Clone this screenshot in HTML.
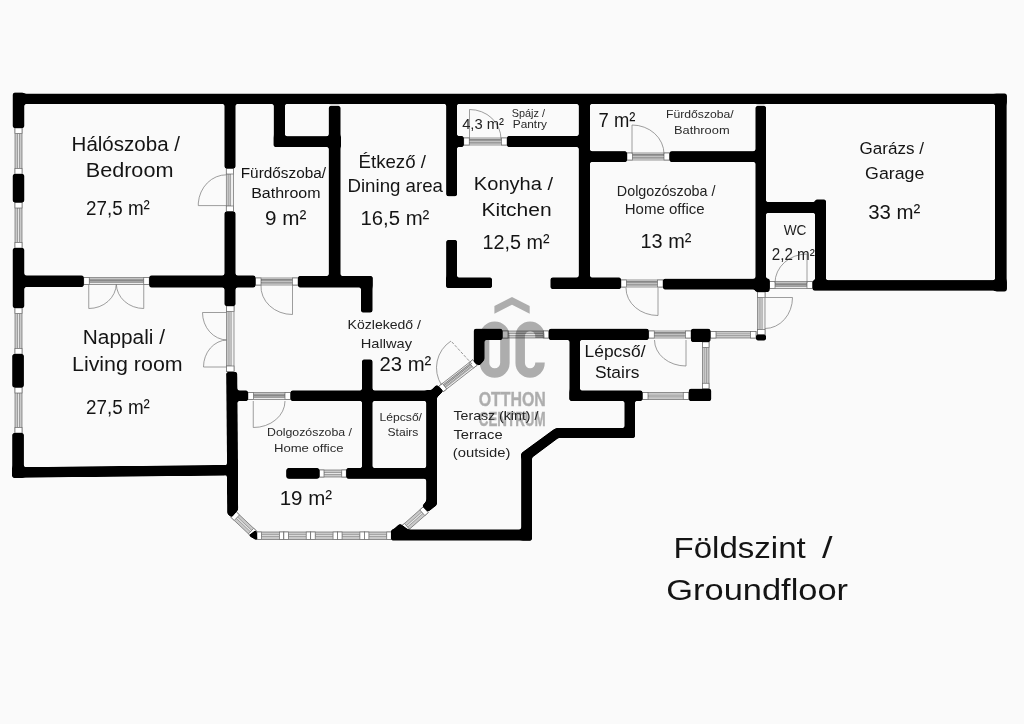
<!DOCTYPE html>
<html><head><meta charset="utf-8"><title>Floor plan</title>
<style>
html,body{margin:0;padding:0;background:#fafafa;}
body{width:1024px;height:724px;overflow:hidden;}
svg{display:block;font-family:"Liberation Sans",sans-serif;}
</style></head><body>
<svg width="1024" height="724" viewBox="0 0 1024 724">
<defs><filter id="soft" filterUnits="userSpaceOnUse" x="0" y="0" width="1024" height="724" color-interpolation-filters="sRGB">
<feGaussianBlur stdDeviation="1.1"/>
<feComponentTransfer><feFuncA type="linear" slope="4" intercept="-1.5"/></feComponentTransfer>
</filter></defs>
<rect width="1024" height="724" fill="#fafafa"/>
<g stroke="#6a6a6a" stroke-width="0.7">
<rect x="15" y="128" width="7" height="46" fill="#c9c9c9"/>
<rect x="17.66" y="133.5" width="1.68" height="35" fill="#e6e6e6" stroke-width="0.5"/>
<rect x="15" y="128" width="7" height="5.5" fill="#fff"/>
<rect x="15" y="168.5" width="7" height="5.5" fill="#fff"/>
</g>
<g stroke="#6a6a6a" stroke-width="0.7">
<rect x="15" y="202.5" width="7" height="45.5" fill="#c9c9c9"/>
<rect x="17.66" y="208" width="1.68" height="34.5" fill="#e6e6e6" stroke-width="0.5"/>
<rect x="15" y="202.5" width="7" height="5.5" fill="#fff"/>
<rect x="15" y="242.5" width="7" height="5.5" fill="#fff"/>
</g>
<g stroke="#6a6a6a" stroke-width="0.7">
<rect x="15" y="308" width="7" height="46" fill="#c9c9c9"/>
<rect x="17.66" y="313.5" width="1.68" height="35" fill="#e6e6e6" stroke-width="0.5"/>
<rect x="15" y="308" width="7" height="5.5" fill="#fff"/>
<rect x="15" y="348.5" width="7" height="5.5" fill="#fff"/>
</g>
<g stroke="#6a6a6a" stroke-width="0.7">
<rect x="15" y="387.5" width="7" height="45.5" fill="#c9c9c9"/>
<rect x="17.66" y="393" width="1.68" height="34.5" fill="#e6e6e6" stroke-width="0.5"/>
<rect x="15" y="387.5" width="7" height="5.5" fill="#fff"/>
<rect x="15" y="427.5" width="7" height="5.5" fill="#fff"/>
</g>
<g stroke="#6a6a6a" stroke-width="0.7">
<rect x="502.5" y="331" width="46.25" height="7" fill="#c9c9c9"/>
<rect x="508" y="333.66" width="35.25" height="1.68" fill="#e6e6e6" stroke-width="0.5"/>
<rect x="502.5" y="331" width="5.5" height="7" fill="#fff"/>
<rect x="543.25" y="331" width="5.5" height="7" fill="#fff"/>
</g>
<g stroke="#6a6a6a" stroke-width="0.7">
<rect x="710.5" y="331.5" width="45.5" height="6.5" fill="#c9c9c9"/>
<rect x="716" y="333.97" width="34.5" height="1.56" fill="#e6e6e6" stroke-width="0.5"/>
<rect x="710.5" y="331.5" width="5.5" height="6.5" fill="#fff"/>
<rect x="750.5" y="331.5" width="5.5" height="6.5" fill="#fff"/>
</g>
<g stroke="#6a6a6a" stroke-width="0.7">
<rect x="642.5" y="392.5" width="46.25" height="7" fill="#c9c9c9"/>
<rect x="648" y="395.16" width="35.25" height="1.68" fill="#e6e6e6" stroke-width="0.5"/>
<rect x="642.5" y="392.5" width="5.5" height="7" fill="#fff"/>
<rect x="683.25" y="392.5" width="5.5" height="7" fill="#fff"/>
</g>
<g stroke="#6a6a6a" stroke-width="0.7">
<rect x="702.5" y="342" width="6.5" height="46.75" fill="#c9c9c9"/>
<rect x="704.97" y="347.5" width="1.56" height="35.75" fill="#e6e6e6" stroke-width="0.5"/>
<rect x="702.5" y="342" width="6.5" height="5.5" fill="#fff"/>
<rect x="702.5" y="383.25" width="6.5" height="5.5" fill="#fff"/>
</g>
<g stroke="#6a6a6a" stroke-width="0.7">
<rect x="319.5" y="470" width="26.75" height="7" fill="#c9c9c9"/>
<rect x="324" y="472.66" width="17.75" height="1.68" fill="#e6e6e6" stroke-width="0.5"/>
<rect x="319.5" y="470" width="4.5" height="7" fill="#fff"/>
<rect x="341.75" y="470" width="4.5" height="7" fill="#fff"/>
</g>
<g stroke="#6a6a6a" stroke-width="0.7">
<rect x="257" y="532" width="26.85" height="7.5" fill="#c9c9c9"/>
<rect x="261.5" y="534.85" width="17.85" height="1.8" fill="#e6e6e6" stroke-width="0.5"/>
<rect x="257" y="532" width="4.5" height="7.5" fill="#fff"/>
<rect x="279.35" y="532" width="4.5" height="7.5" fill="#fff"/>
</g>
<g stroke="#6a6a6a" stroke-width="0.7">
<rect x="283.85" y="532" width="26.85" height="7.5" fill="#c9c9c9"/>
<rect x="288.35" y="534.85" width="17.85" height="1.8" fill="#e6e6e6" stroke-width="0.5"/>
<rect x="283.85" y="532" width="4.5" height="7.5" fill="#fff"/>
<rect x="306.2" y="532" width="4.5" height="7.5" fill="#fff"/>
</g>
<g stroke="#6a6a6a" stroke-width="0.7">
<rect x="310.7" y="532" width="26.85" height="7.5" fill="#c9c9c9"/>
<rect x="315.2" y="534.85" width="17.85" height="1.8" fill="#e6e6e6" stroke-width="0.5"/>
<rect x="310.7" y="532" width="4.5" height="7.5" fill="#fff"/>
<rect x="333.05" y="532" width="4.5" height="7.5" fill="#fff"/>
</g>
<g stroke="#6a6a6a" stroke-width="0.7">
<rect x="337.55" y="532" width="26.85" height="7.5" fill="#c9c9c9"/>
<rect x="342.05" y="534.85" width="17.85" height="1.8" fill="#e6e6e6" stroke-width="0.5"/>
<rect x="337.55" y="532" width="4.5" height="7.5" fill="#fff"/>
<rect x="359.9" y="532" width="4.5" height="7.5" fill="#fff"/>
</g>
<g stroke="#6a6a6a" stroke-width="0.7">
<rect x="364.4" y="532" width="26.85" height="7.5" fill="#c9c9c9"/>
<rect x="368.9" y="534.85" width="17.85" height="1.8" fill="#e6e6e6" stroke-width="0.5"/>
<rect x="364.4" y="532" width="4.5" height="7.5" fill="#fff"/>
<rect x="386.75" y="532" width="4.5" height="7.5" fill="#fff"/>
</g>
<g transform="translate(233.6,514.6) rotate(43.3)">
<g stroke="#6a6a6a" stroke-width="0.7">
<rect x="0" y="-3.8" width="28.5" height="7.6" fill="#c9c9c9"/>
<rect x="4.5" y="-0.912" width="19.5" height="1.824" fill="#e6e6e6" stroke-width="0.5"/>
<rect x="0" y="-3.8" width="4.5" height="7.6" fill="#fff"/>
<rect x="24" y="-3.8" width="4.5" height="7.6" fill="#fff"/>
</g>
</g>
<g transform="translate(403.6,529.3) rotate(-41.5)">
<g stroke="#6a6a6a" stroke-width="0.7">
<rect x="0" y="-3.8" width="29.5" height="7.6" fill="#c9c9c9"/>
<rect x="4.5" y="-0.912" width="20.5" height="1.824" fill="#e6e6e6" stroke-width="0.5"/>
<rect x="0" y="-3.8" width="4.5" height="7.6" fill="#fff"/>
<rect x="25" y="-3.8" width="4.5" height="7.6" fill="#fff"/>
</g>
</g>
<g stroke="#6a6a6a" stroke-width="0.7">
<rect x="226.3" y="168.5" width="7.2" height="43" fill="#f0f0f0"/>
<rect x="226.3" y="174" width="4.464" height="32" fill="#c8c8c8" stroke="#777" stroke-width="0.5"/>
<line x1="228.604" y1="174" x2="228.604" y2="206" stroke="#8a8a8a" stroke-width="0.5"/>
<rect x="226.3" y="168.5" width="7.2" height="5.5" fill="#fff"/>
<rect x="226.3" y="206" width="7.2" height="5.5" fill="#fff"/>
</g>
<path d="M226.5,174.8 A28.2,30.8 0 0 0 198.3,203 L198.3,205.6 L226.5,205.6" fill="none" stroke="#7d7d7d" stroke-width="0.75" />
<g stroke="#6a6a6a" stroke-width="0.7">
<rect x="83.75" y="277.5" width="65.5" height="7" fill="#ececec"/>
<rect x="89.25" y="279.04" width="54.5" height="1.4" fill="#bdbdbd" stroke="#555" stroke-width="0.6"/>
<rect x="89.25" y="281.7" width="54.5" height="0.98" fill="#cfcfcf" stroke="#666" stroke-width="0.5"/>
<rect x="83.75" y="277.5" width="5.5" height="7" fill="#fff"/>
<rect x="143.75" y="277.5" width="5.5" height="7" fill="#fff"/>
</g>
<path d="M88.75,284 L88.75,308.5 A27.5,25 0 0 0 116.3,284" fill="none" stroke="#7d7d7d" stroke-width="0.75" />
<path d="M143.75,284 L143.75,308.5 A27.5,25 0 0 1 116.3,284" fill="none" stroke="#7d7d7d" stroke-width="0.75" />
<g stroke="#6a6a6a" stroke-width="0.7">
<rect x="226.5" y="306" width="7.5" height="65.5" fill="#f0f0f0"/>
<rect x="226.5" y="311.5" width="4.65" height="54.5" fill="#c8c8c8" stroke="#777" stroke-width="0.5"/>
<line x1="228.9" y1="311.5" x2="228.9" y2="366" stroke="#8a8a8a" stroke-width="0.5"/>
<rect x="226.5" y="306" width="7.5" height="5.5" fill="#fff"/>
<rect x="226.5" y="366" width="7.5" height="5.5" fill="#fff"/>
</g>
<path d="M227,312.5 L202.5,312.5 A25,27.5 0 0 0 227,340" fill="none" stroke="#7d7d7d" stroke-width="0.75" />
<path d="M227,367 L203.5,367 A24,27 0 0 1 227,340" fill="none" stroke="#7d7d7d" stroke-width="0.75" />
<g stroke="#6a6a6a" stroke-width="0.7">
<rect x="255.5" y="278" width="42.5" height="7" fill="#ececec"/>
<rect x="261" y="279.54" width="31.5" height="1.4" fill="#bdbdbd" stroke="#555" stroke-width="0.6"/>
<rect x="261" y="282.2" width="31.5" height="0.98" fill="#cfcfcf" stroke="#666" stroke-width="0.5"/>
<rect x="255.5" y="278" width="5.5" height="7" fill="#fff"/>
<rect x="292.5" y="278" width="5.5" height="7" fill="#fff"/>
</g>
<path d="M292.5,285 L292.5,314.5 A31.5,28 0 0 1 261,285" fill="none" stroke="#7d7d7d" stroke-width="0.75" />
<g stroke="#6a6a6a" stroke-width="0.7">
<rect x="463.75" y="138" width="43.25" height="7" fill="#ececec"/>
<rect x="469.25" y="139.54" width="32.25" height="1.4" fill="#bdbdbd" stroke="#555" stroke-width="0.6"/>
<rect x="469.25" y="142.2" width="32.25" height="0.98" fill="#cfcfcf" stroke="#666" stroke-width="0.5"/>
<rect x="463.75" y="138" width="5.5" height="7" fill="#fff"/>
<rect x="501.5" y="138" width="5.5" height="7" fill="#fff"/>
</g>
<path d="M469.5,139 L469.5,109.5 A31.5,29.5 0 0 1 501,139" fill="none" stroke="#7d7d7d" stroke-width="0.75" />
<g stroke="#6a6a6a" stroke-width="0.7">
<rect x="627" y="153" width="42.5" height="7" fill="#ececec"/>
<rect x="632.5" y="154.54" width="31.5" height="1.4" fill="#bdbdbd" stroke="#555" stroke-width="0.6"/>
<rect x="632.5" y="157.2" width="31.5" height="0.98" fill="#cfcfcf" stroke="#666" stroke-width="0.5"/>
<rect x="627" y="153" width="5.5" height="7" fill="#fff"/>
<rect x="664" y="153" width="5.5" height="7" fill="#fff"/>
</g>
<path d="M632,154 L632,125 A32,29 0 0 1 664,154" fill="none" stroke="#7d7d7d" stroke-width="0.75" />
<g stroke="#6a6a6a" stroke-width="0.7">
<rect x="621" y="280" width="42" height="7" fill="#ececec"/>
<rect x="626.5" y="281.54" width="31" height="1.4" fill="#bdbdbd" stroke="#555" stroke-width="0.6"/>
<rect x="626.5" y="284.2" width="31" height="0.98" fill="#cfcfcf" stroke="#666" stroke-width="0.5"/>
<rect x="621" y="280" width="5.5" height="7" fill="#fff"/>
<rect x="657.5" y="280" width="5.5" height="7" fill="#fff"/>
</g>
<path d="M658,288 L658,315.5 A32,27.5 0 0 1 626,288" fill="none" stroke="#7d7d7d" stroke-width="0.75" />
<g stroke="#6a6a6a" stroke-width="0.7">
<rect x="769.5" y="281.5" width="43" height="7" fill="#ececec"/>
<rect x="775" y="283.04" width="32" height="1.4" fill="#bdbdbd" stroke="#555" stroke-width="0.6"/>
<rect x="775" y="285.7" width="32" height="0.98" fill="#cfcfcf" stroke="#666" stroke-width="0.5"/>
<rect x="769.5" y="281.5" width="5.5" height="7" fill="#fff"/>
<rect x="807" y="281.5" width="5.5" height="7" fill="#fff"/>
</g>
<path d="M807,283 L807,254 A32,29 0 0 0 775,283" fill="none" stroke="#7d7d7d" stroke-width="0.75" />
<g stroke="#6a6a6a" stroke-width="0.7">
<rect x="757.5" y="292" width="7.5" height="43" fill="#f0f0f0"/>
<rect x="757.5" y="297.5" width="4.65" height="32" fill="#c8c8c8" stroke="#777" stroke-width="0.5"/>
<line x1="759.9" y1="297.5" x2="759.9" y2="329.5" stroke="#8a8a8a" stroke-width="0.5"/>
<rect x="757.5" y="292" width="7.5" height="5.5" fill="#fff"/>
<rect x="757.5" y="329.5" width="7.5" height="5.5" fill="#fff"/>
</g>
<path d="M765,297.5 L792.5,297.5 A27.5,31 0 0 1 765,328.5" fill="none" stroke="#7d7d7d" stroke-width="0.75" />
<g stroke="#6a6a6a" stroke-width="0.7">
<rect x="648.75" y="331" width="42.25" height="7" fill="#ececec"/>
<rect x="654.25" y="332.54" width="31.25" height="1.4" fill="#bdbdbd" stroke="#555" stroke-width="0.6"/>
<rect x="654.25" y="335.2" width="31.25" height="0.98" fill="#cfcfcf" stroke="#666" stroke-width="0.5"/>
<rect x="648.75" y="331" width="5.5" height="7" fill="#fff"/>
<rect x="685.5" y="331" width="5.5" height="7" fill="#fff"/>
</g>
<path d="M686,340 L686,366 A31.5,26 0 0 1 654.5,340" fill="none" stroke="#7d7d7d" stroke-width="0.75" />
<g stroke="#6a6a6a" stroke-width="0.7">
<rect x="248" y="392.5" width="42.5" height="7" fill="#ececec"/>
<rect x="253.5" y="394.04" width="31.5" height="1.4" fill="#bdbdbd" stroke="#555" stroke-width="0.6"/>
<rect x="253.5" y="396.7" width="31.5" height="0.98" fill="#cfcfcf" stroke="#666" stroke-width="0.5"/>
<rect x="248" y="392.5" width="5.5" height="7" fill="#fff"/>
<rect x="285" y="392.5" width="5.5" height="7" fill="#fff"/>
</g>
<path d="M253.25,401 L253.25,427.5 A31.5,26.5 0 0 0 285,401" fill="none" stroke="#7d7d7d" stroke-width="0.75" />
<g transform="translate(441,389) rotate(-38)">
<g stroke="#6a6a6a" stroke-width="0.7">
<rect x="0" y="-3.5" width="43" height="7" fill="#ececec"/>
<rect x="4.5" y="-1.96" width="34" height="1.4" fill="#bdbdbd" stroke="#555" stroke-width="0.6"/>
<rect x="4.5" y="0.7" width="34" height="0.98" fill="#cfcfcf" stroke="#666" stroke-width="0.5"/>
<rect x="0" y="-3.5" width="4.5" height="7" fill="#fff"/>
<rect x="38.5" y="-3.5" width="4.5" height="7" fill="#fff"/>
</g>
</g>
<path d="M472,364 L451,341" fill="none" stroke="#7d7d7d" stroke-width="0.8" stroke-dasharray="3 1.5"/>
<path d="M451,341 A32,32 0 0 0 441.5,385" fill="none" stroke="#7d7d7d" stroke-width="0.75" />
<g opacity="0.3">
<g fill="none" stroke="#000" stroke-width="9.5">
<path d="M484.6,362.9 L484.6,336.3 A10.15,10.15 0 0 1 504.9,336.3 L504.9,362.9 A10.15,10.15 0 0 1 484.6,362.9 Z"/>
<path d="M540,338 L540,336.1 A9.9,9.9 0 0 0 520.2,336.1 L520.2,363.1 A9.9,9.9 0 0 0 540,363.1 L540,362.5"/>
</g>
<polygon points="494.4,306 512,297 529.7,306 529.7,313.7 512,304.7 494.4,313.7" fill="#000"/>
<text x="478.65" y="405.8" font-size="20.6" textLength="67.23" lengthAdjust="spacingAndGlyphs" fill="#000" font-weight="bold" stroke="#000" stroke-width="0.5">OTTHON</text>
<text x="478.75" y="426.3" font-size="19.3" textLength="66.94" lengthAdjust="spacingAndGlyphs" fill="#000" font-weight="bold" stroke="#000" stroke-width="0.5">CENTRUM</text>
</g>
<g id="walls" filter="url(#soft)">
<rect x="13" y="93.7" width="993.6" height="10.3" fill="#000" />
<rect x="12.7" y="92.6" width="11.6" height="35.4" fill="#000" />
<rect x="12.7" y="174" width="11.6" height="28.5" fill="#000" />
<rect x="12.7" y="248" width="11.6" height="60" fill="#000" />
<rect x="12.3" y="354" width="11.5" height="33.5" fill="#000" />
<rect x="12.3" y="433" width="11.5" height="44.7" fill="#000" />
<rect x="995" y="93.7" width="11.6" height="197.8" fill="#000" />
<rect x="812.5" y="280.2" width="194.1" height="10.4" fill="#000" />
<rect x="224.5" y="104" width="11" height="64.5" fill="#000" />
<rect x="224.5" y="211.5" width="11" height="94.5" fill="#000" />
<rect x="24" y="275.5" width="59.75" height="11.5" fill="#000" />
<rect x="149.25" y="275.5" width="106.25" height="12" fill="#000" />
<rect x="273.75" y="94" width="11.25" height="53" fill="#000" />
<rect x="273.75" y="136.25" width="67.25" height="10.75" fill="#000" />
<rect x="328.75" y="106" width="11.75" height="181" fill="#000" />
<rect x="298" y="276" width="74.5" height="11.5" fill="#000" />
<rect x="361" y="276" width="11.5" height="36.5" fill="#000" />
<rect x="446.25" y="104" width="10.75" height="92.25" fill="#000" />
<rect x="446.25" y="240" width="10.75" height="48" fill="#000" />
<rect x="446.25" y="277.5" width="45.75" height="10.5" fill="#000" />
<rect x="457" y="136" width="6.75" height="11" fill="#000" />
<rect x="507" y="136" width="72" height="11" fill="#000" />
<rect x="578.75" y="104" width="11.25" height="184" fill="#000" />
<rect x="550.5" y="277.5" width="70.5" height="11.5" fill="#000" />
<rect x="590" y="151.25" width="37" height="10.75" fill="#000" />
<rect x="669.5" y="151.25" width="86.5" height="10.75" fill="#000" />
<rect x="755.5" y="106" width="10.5" height="186" fill="#000" />
<rect x="663" y="278.75" width="106.5" height="10.75" fill="#000" />
<rect x="755.5" y="278.75" width="14" height="13.25" fill="#000" />
<rect x="766" y="202" width="60" height="11" fill="#000" />
<rect x="815" y="199.5" width="11" height="90.5" fill="#000" />
<rect x="756" y="334.5" width="10" height="6" fill="#000" />
<rect x="484" y="328.75" width="18.5" height="11.25" fill="#000" />
<polygon points="473.75,328.75 484.5,328.75 484.5,360 479,366 473.75,362" fill="#000" />
<rect x="548.75" y="328.75" width="100" height="11.25" fill="#000" />
<rect x="569.5" y="340" width="10.5" height="60.5" fill="#000" />
<rect x="569.5" y="390.5" width="73" height="10.5" fill="#000" />
<rect x="691" y="328.75" width="19.5" height="13.25" fill="#000" />
<rect x="688.75" y="388.75" width="22.5" height="12.25" fill="#000" />
<rect x="624.5" y="401" width="10.5" height="37" fill="#000" />
<rect x="556" y="428" width="79" height="10" fill="#000" />
<polygon points="555.5,428 558.5,438 532,457.8 521.25,457.8 521.25,453" fill="#000" />
<rect x="521.25" y="453" width="10.75" height="87.5" fill="#000" />
<rect x="391" y="529.5" width="141" height="11" fill="#000" />
<polygon points="12.3,467.3 226.5,465 226.5,475.5 12.3,477.8" fill="#000" />
<polygon points="226.25,372 237.25,372 238.2,510 231.5,517.5 227.3,514" fill="#000" />
<rect x="237" y="390.5" width="11" height="10.5" fill="#000" />
<rect x="290.5" y="390.5" width="145.5" height="10.5" fill="#000" />
<rect x="362" y="359.5" width="10.5" height="109.5" fill="#000" />
<rect x="286.25" y="468" width="33.25" height="10.75" rx="1.5" fill="#000"/>
<rect x="346.25" y="468" width="89.75" height="10.75" fill="#000" />
<polygon points="426.25,390 437,390 437,505 428,512 422,506 426.25,501" fill="#000" />
<polygon points="436.8,384.5 443.5,391 437,397.5 437,401 426.25,401 426.25,395" fill="#000" />
<polygon points="248.3,535.5 256.5,529.5 257.5,541" fill="#000" />
<polygon points="391.25,540.5 391.25,531 400,523.5 409,530" fill="#000" />
</g>
<g opacity="0.999">
<text x="71.57" y="150.5" font-size="20" textLength="108.43" lengthAdjust="spacingAndGlyphs" fill="#141414" >Hálószoba /</text>
<text x="85.73" y="177" font-size="20" textLength="87.70" lengthAdjust="spacingAndGlyphs" fill="#141414" >Bedroom</text>
<text x="86.05" y="215" font-size="20.9" textLength="63.80" lengthAdjust="spacingAndGlyphs" fill="#141414" >27,5 m²</text>
<text x="240.74" y="178" font-size="15.3" textLength="85.26" lengthAdjust="spacingAndGlyphs" fill="#141414" >Fürdőszoba/</text>
<text x="251.19" y="197.5" font-size="15.3" textLength="69.37" lengthAdjust="spacingAndGlyphs" fill="#141414" >Bathroom</text>
<text x="265.03" y="225" font-size="20.9" textLength="41.36" lengthAdjust="spacingAndGlyphs" fill="#141414" >9 m²</text>
<text x="358.47" y="167.5" font-size="19" textLength="67.53" lengthAdjust="spacingAndGlyphs" fill="#141414" >Étkező /</text>
<text x="347.47" y="192" font-size="19" textLength="95.53" lengthAdjust="spacingAndGlyphs" fill="#141414" >Dining area</text>
<text x="360.45" y="225" font-size="20.9" textLength="68.94" lengthAdjust="spacingAndGlyphs" fill="#141414" >16,5 m²</text>
<text x="462.16" y="128.5" font-size="15.3" textLength="41.87" lengthAdjust="spacingAndGlyphs" fill="#222" >4,3 m²</text>
<text x="511.81" y="117.2" font-size="10.3" textLength="33.19" lengthAdjust="spacingAndGlyphs" fill="#2a2a2a" >Spájz /</text>
<text x="512.78" y="128.4" font-size="10.3" textLength="34.25" lengthAdjust="spacingAndGlyphs" fill="#2a2a2a" >Pantry</text>
<text x="598.56" y="127.2" font-size="20" textLength="36.79" lengthAdjust="spacingAndGlyphs" fill="#141414" >7 m²</text>
<text x="473.86" y="190" font-size="18.7" textLength="79.14" lengthAdjust="spacingAndGlyphs" fill="#141414" >Konyha /</text>
<text x="481.47" y="216.1" font-size="18.7" textLength="70.19" lengthAdjust="spacingAndGlyphs" fill="#141414" >Kitchen</text>
<text x="482.49" y="248.8" font-size="20.7" textLength="67.08" lengthAdjust="spacingAndGlyphs" fill="#141414" >12,5 m²</text>
<text x="666.00" y="118" font-size="11" textLength="67.75" lengthAdjust="spacingAndGlyphs" fill="#2a2a2a" >Fürdőszoba/</text>
<text x="673.95" y="133.75" font-size="11.2" textLength="55.65" lengthAdjust="spacingAndGlyphs" fill="#2a2a2a" >Bathroom</text>
<text x="616.83" y="195.5" font-size="14.8" textLength="98.67" lengthAdjust="spacingAndGlyphs" fill="#222" >Dolgozószoba /</text>
<text x="624.77" y="213.75" font-size="14.8" textLength="79.89" lengthAdjust="spacingAndGlyphs" fill="#222" >Home office</text>
<text x="640.48" y="248" font-size="20.9" textLength="50.90" lengthAdjust="spacingAndGlyphs" fill="#141414" >13 m²</text>
<text x="783.69" y="235" font-size="14.8" textLength="22.83" lengthAdjust="spacingAndGlyphs" fill="#222" >WC</text>
<text x="771.74" y="259.5" font-size="16" textLength="43.05" lengthAdjust="spacingAndGlyphs" fill="#222" >2,2 m²</text>
<text x="859.64" y="154" font-size="16.9" textLength="64.36" lengthAdjust="spacingAndGlyphs" fill="#141414" >Garázs /</text>
<text x="865.11" y="178.7" font-size="16.9" textLength="59.18" lengthAdjust="spacingAndGlyphs" fill="#141414" >Garage</text>
<text x="868.22" y="218.8" font-size="20.9" textLength="52.17" lengthAdjust="spacingAndGlyphs" fill="#141414" >33 m²</text>
<text x="82.79" y="343.75" font-size="20" textLength="82.21" lengthAdjust="spacingAndGlyphs" fill="#141414" >Nappali /</text>
<text x="71.99" y="371.25" font-size="20" textLength="110.67" lengthAdjust="spacingAndGlyphs" fill="#141414" >Living room</text>
<text x="86.05" y="413.75" font-size="20.9" textLength="63.80" lengthAdjust="spacingAndGlyphs" fill="#141414" >27,5 m²</text>
<text x="347.60" y="328.75" font-size="12.8" textLength="73.40" lengthAdjust="spacingAndGlyphs" fill="#222" >Közlekedő /</text>
<text x="360.80" y="347.5" font-size="12.9" textLength="51.23" lengthAdjust="spacingAndGlyphs" fill="#222" >Hallway</text>
<text x="379.48" y="370.5" font-size="20.9" textLength="51.91" lengthAdjust="spacingAndGlyphs" fill="#141414" >23 m²</text>
<text x="584.57" y="357" font-size="16.9" textLength="60.93" lengthAdjust="spacingAndGlyphs" fill="#141414" >Lépcső/</text>
<text x="594.96" y="378" font-size="16.9" textLength="44.42" lengthAdjust="spacingAndGlyphs" fill="#141414" >Stairs</text>
<text x="453.49" y="419.8" font-size="13.1" textLength="84.91" lengthAdjust="spacingAndGlyphs" fill="#222" >Terasz (kint) /</text>
<text x="453.48" y="438.6" font-size="13.1" textLength="49.15" lengthAdjust="spacingAndGlyphs" fill="#222" >Terrace</text>
<text x="452.88" y="457.3" font-size="13.1" textLength="57.53" lengthAdjust="spacingAndGlyphs" fill="#222" >(outside)</text>
<text x="266.99" y="435.8" font-size="11.6" textLength="85.01" lengthAdjust="spacingAndGlyphs" fill="#2a2a2a" >Dolgozószoba /</text>
<text x="273.93" y="451.5" font-size="11.6" textLength="69.65" lengthAdjust="spacingAndGlyphs" fill="#2a2a2a" >Home office</text>
<text x="279.64" y="504.5" font-size="20.6" textLength="52.45" lengthAdjust="spacingAndGlyphs" fill="#141414" >19 m²</text>
<text x="379.50" y="420.8" font-size="11" textLength="42.50" lengthAdjust="spacingAndGlyphs" fill="#2a2a2a" >Lépcső/</text>
<text x="387.45" y="436" font-size="11" textLength="30.99" lengthAdjust="spacingAndGlyphs" fill="#2a2a2a" >Stairs</text>
<text x="673.49" y="557.5" font-size="29.5" textLength="132.25" lengthAdjust="spacingAndGlyphs" fill="#141414" >Földszint</text>
<text x="822.00" y="557.5" font-size="29.5" textLength="10.50" lengthAdjust="spacingAndGlyphs" fill="#141414" >/</text>
<text x="666.27" y="600" font-size="29.5" textLength="181.80" lengthAdjust="spacingAndGlyphs" fill="#141414" >Groundfloor</text>
</g>
</svg>
</body></html>
